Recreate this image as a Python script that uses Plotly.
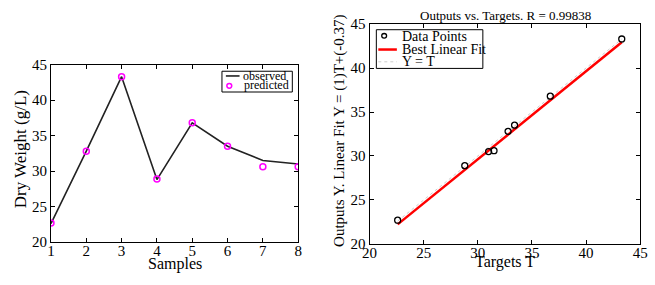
import plotly.graph_objects as go

samples = [1, 2, 3, 4, 5, 6, 7, 8]
observed = [22.6, 32.8, 43.3, 28.8, 36.8, 33.5, 31.5, 31.0]
predicted = [22.7, 32.8, 43.3, 28.9, 36.8, 33.5, 30.6, 30.6]

targets = [22.6, 32.8, 43.3, 28.8, 36.7, 33.4, 31.5, 31.0]
outputs = [22.7, 32.8, 43.3, 28.9, 36.8, 33.5, 30.6, 30.5]

fit_slope = 1.0
fit_intercept = -0.37
r_value = 0.99838

left_yticks = [20, 25, 30, 35, 40, 45]
right_ticks = [20, 25, 30, 35, 40, 45]

FONT = "Liberation Serif, Times New Roman, serif"
W, H = 655, 285


def px(x):
    return x / W


def py(y):
    return 1 - y / H


fig = go.Figure()

fig.add_trace(go.Scatter(x=samples, y=observed, mode="lines", name="observed",
                         line=dict(color="#222222", width=1.6),
                         xaxis="x", yaxis="y", showlegend=False))
fig.add_trace(go.Scatter(x=samples, y=predicted, mode="markers", name="predicted",
                         marker=dict(symbol="circle-open", color="#ff00ff", size=6,
                                     line=dict(width=1.5, color="#ff00ff")),
                         xaxis="x", yaxis="y", showlegend=False))

tmin, tmax = min(targets), max(targets)
fig.add_trace(go.Scatter(x=[tmin, tmax], y=[tmin, tmax], mode="lines", name="Y = T",
                         line=dict(color="#cccccc", width=1, dash="dot"),
                         xaxis="x2", yaxis="y2", showlegend=False))
fig.add_trace(go.Scatter(x=[tmin, tmax],
                         y=[fit_slope * tmin + fit_intercept, fit_slope * tmax + fit_intercept],
                         mode="lines", name="Best Linear Fit",
                         line=dict(color="#ff0000", width=2.5),
                         xaxis="x2", yaxis="y2", showlegend=False))
fig.add_trace(go.Scatter(x=targets, y=outputs, mode="markers", name="Data Points",
                         marker=dict(symbol="circle-open", color="black", size=6,
                                     line=dict(width=1.3, color="black")),
                         xaxis="x2", yaxis="y2", showlegend=False))

axis_common = dict(showgrid=False, zeroline=False, showline=True, linecolor="black",
                   linewidth=1, mirror="allticks", ticks="inside", ticklen=4,
                   tickcolor="black", tickfont=dict(family=FONT, size=15, color="black"))

shapes = [
    dict(type="rect", xref="paper", yref="paper", x0=px(220), x1=px(292), y0=py(89), y1=py(67),
         line=dict(color="black", width=1), fillcolor="white", layer="above"),
    dict(type="line", xref="paper", yref="paper", x0=px(224), x1=px(238), y0=py(72), y1=py(72),
         line=dict(color="#222222", width=1.6), layer="above"),
    dict(type="circle", xref="paper", yref="paper", x0=px(225), x1=px(230), y0=py(85), y1=py(80),
         line=dict(color="#ff00ff", width=1.5), layer="above"),
    dict(type="rect", xref="paper", yref="paper", x0=px(378), x1=px(487), y0=py(64), y1=py(23),
         line=dict(color="black", width=1), fillcolor="white", layer="above"),
    dict(type="circle", xref="paper", yref="paper", x0=px(383.5), x1=px(388.5), y0=py(32), y1=py(27),
         line=dict(color="black", width=1.3), layer="above"),
    dict(type="line", xref="paper", yref="paper", x0=px(380), x1=px(399), y0=py(44), y1=py(44),
         line=dict(color="#ff0000", width=2.5), layer="above"),
    dict(type="line", xref="paper", yref="paper", x0=px(380), x1=px(399), y0=py(57), y1=py(57),
         line=dict(color="#cccccc", width=1, dash="dot"), layer="above"),
]


def ann(text, x, y, size, xanchor="center", textangle=0):
    return dict(text=text, x=px(x), y=py(y), xref="paper", yref="paper", showarrow=False,
                font=dict(family=FONT, size=size, color="black"), xanchor=xanchor,
                yanchor="middle", textangle=textangle, borderpad=0)


annotations = [
    ann("Outputs vs. Targets. R = %.5f" % r_value, 510, 8, 13),
    ann("Samples", 172, 271, 16),
    ann("Targets T", 510, 269, 16),
    ann("Dry Weight (g/L)", 14, 150, 17, textangle=-90),
    ann("Outputs Y. Linear Fit Y = (1)T+(-0.37)", 340, 130, 15, textangle=-90),
    ann("observed", 241, 72, 12, xanchor="left"),
    ann("predicted", 242, 82, 12, xanchor="left"),
    ann("Data Points", 403, 30.5, 14, xanchor="left"),
    ann("Best Linear Fit", 403, 44, 14, xanchor="left"),
    ann("Y = T", 403, 57, 14, xanchor="left"),
]

fig.update_layout(
    width=W, height=H,
    margin=dict(l=0, r=0, t=0, b=0),
    paper_bgcolor="white", plot_bgcolor="white",
    font=dict(family=FONT, color="black"),
    showlegend=False,
    xaxis=dict(domain=[px(45), px(298)], range=[1, 8], tickvals=samples,
               ticklabelstandoff=-5, **axis_common),
    yaxis=dict(domain=[py(248), py(60)], range=[20, 45], tickvals=left_yticks, **axis_common),
    xaxis2=dict(domain=[px(371), px(648)], range=[20, 45], tickvals=right_ticks,
                anchor="y2", ticklabelstandoff=-5, **axis_common),
    yaxis2=dict(domain=[py(250), py(17)], range=[20, 45], tickvals=right_ticks,
                anchor="x2", **axis_common),
    shapes=shapes,
    annotations=annotations,
)

fig.write_html(
    "out.html",
    config={"displayModeBar": False},
    post_script="document.body.style.margin='0';document.body.style.padding='0';"
                "document.documentElement.style.overflow='hidden';"
                "document.body.style.overflow='hidden';",
)
